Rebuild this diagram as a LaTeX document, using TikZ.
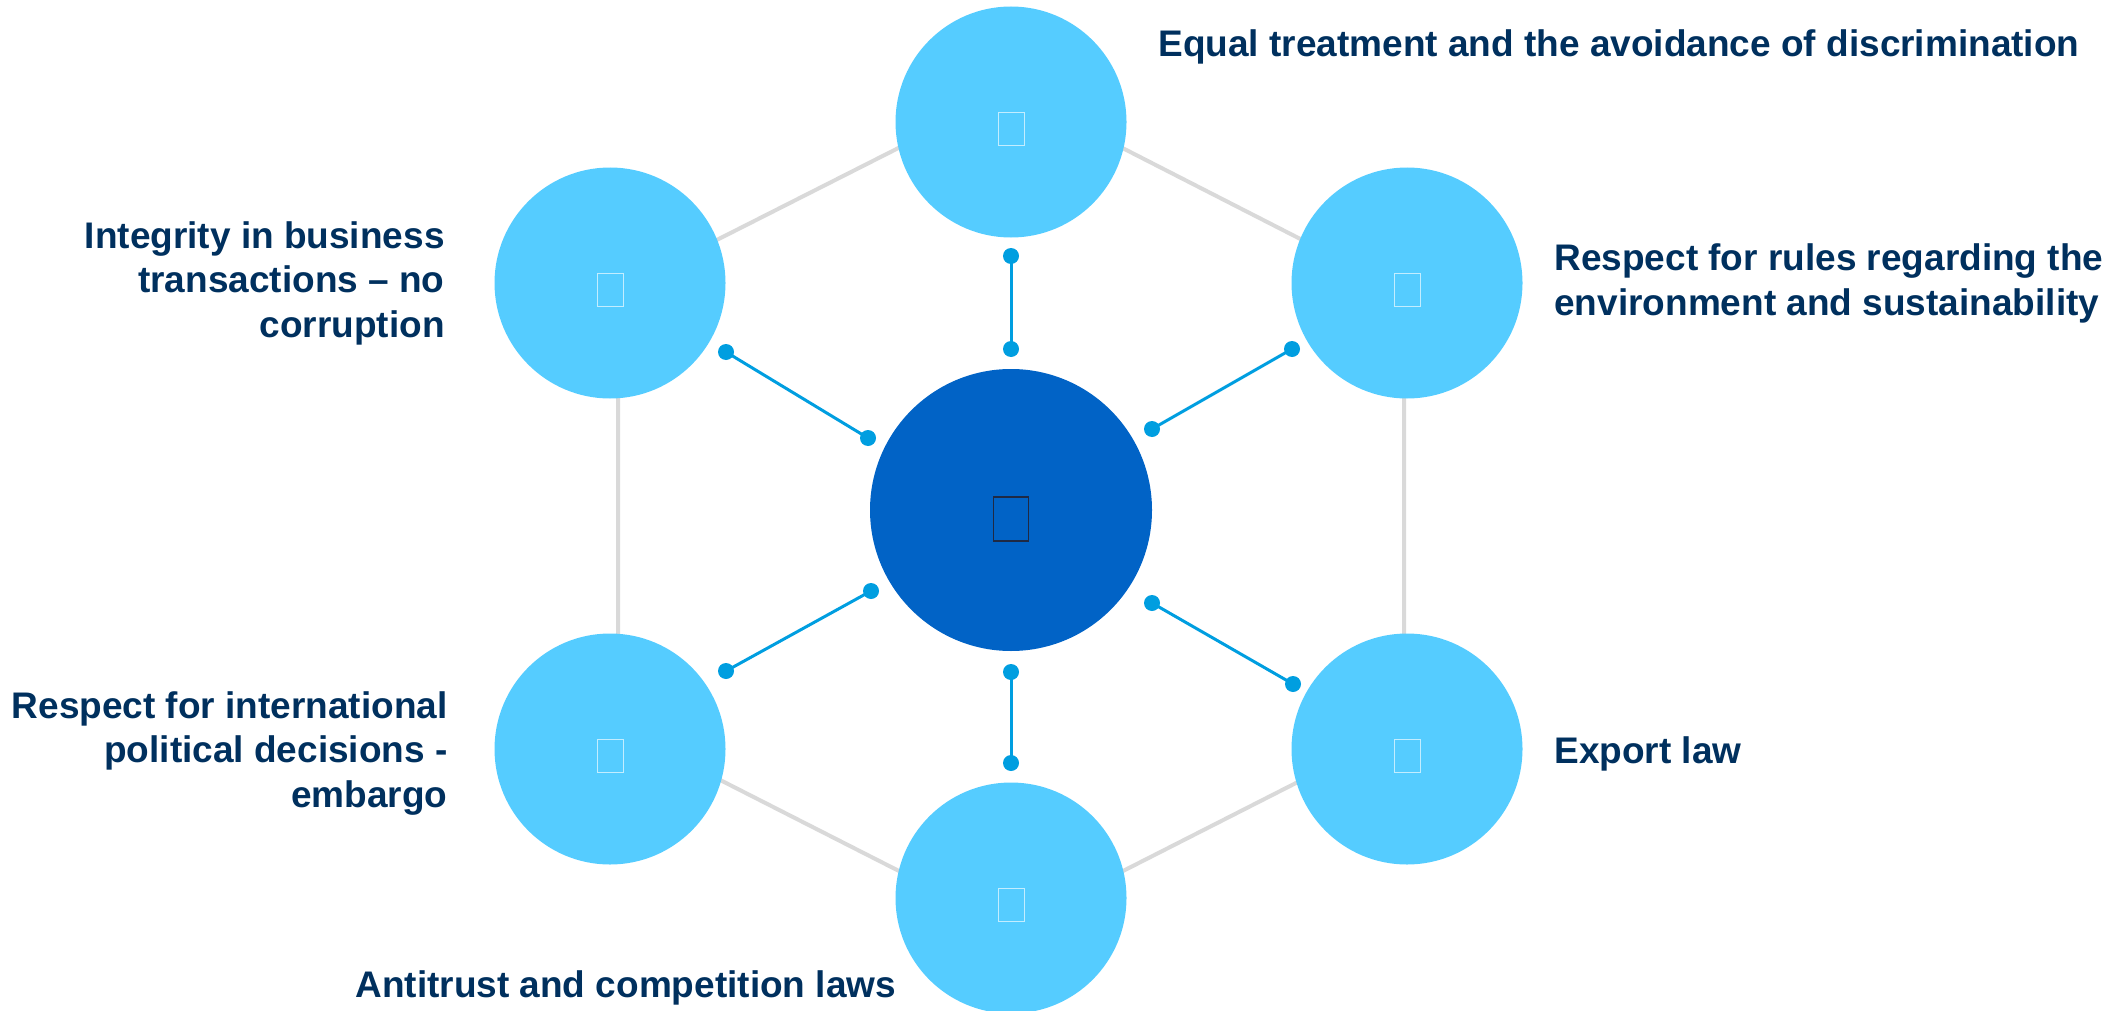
\documentclass[tikz,border=0pt]{standalone}
\usepackage{fontspec}
\setmainfont{Liberation Sans}
\definecolor{lightc}{HTML}{55CCFF}
\definecolor{hubc}{HTML}{0163C6}
\definecolor{connc}{HTML}{009EE0}
\definecolor{grayc}{HTML}{D9D9D9}
\definecolor{txtc}{HTML}{00305E}
\definecolor{iconk}{HTML}{1F2A44}
\begin{document}
\begin{tikzpicture}[x=0.5pt,y=-0.5pt,
  outer/.style={circle, fill=lightc, minimum size=115.5pt, inner sep=0pt},
  hub/.style={circle, fill=hubc, minimum size=141pt, inner sep=0pt},
  dotn/.style={circle, fill=connc, minimum size=8pt, inner sep=0pt},
  conn/.style={draw=connc, line width=1.5pt},
  hexline/.style={draw=grayc, line width=2pt},
  lbl/.style={font=\bfseries\fontsize{18.5pt}{22.25pt}\selectfont, text=txtc, inner sep=0pt},
  iconw/.style={rectangle, draw=white, draw opacity=0.65, line width=0.5pt, minimum width=13pt, minimum height=16.5pt, inner sep=0pt},
  iconh/.style={rectangle, draw=iconk, line width=0.7pt, minimum width=17.5pt, minimum height=22pt, inner sep=0pt}
]
\useasboundingbox (0,0) rectangle (2126,1011);
\clip (0,0) rectangle (2126,1011);
% hexagon frame
\coordinate (h1) at (1011,91);
\coordinate (h2) at (1404,292);
\coordinate (h3) at (1404,728);
\coordinate (h4) at (1011,928);
\coordinate (h5) at (618,728);
\coordinate (h6) at (618,290);
\draw[hexline] (h1) -- (h2) -- (h3) -- (h4) -- (h5) -- (h6) -- cycle;
% circles
\node[outer] (ctop) at (1011,122) {};
\node[outer] (cur)  at (1407,283) {};
\node[outer] (clr)  at (1407,749) {};
\node[outer] (cbot) at (1011,898) {};
\node[outer] (cll)  at (610,749) {};
\node[outer] (cul)  at (610,283) {};
\node[hub]   (chub) at (1011,510) {};
% icons
\node[iconw] (itop) at (1011,129) {};
\node[iconw] (iur)  at (1407,290) {};
\node[iconw] (ilr)  at (1407,756) {};
\node[iconw] (ibot) at (1011,905) {};
\node[iconw] (ill)  at (610,756) {};
\node[iconw] (iul)  at (610,290) {};
\node[iconh] (ihub) at (1011,519) {};
% connector dots
\node[dotn] (dtopo) at (1011,256) {};
\node[dotn] (dtopi) at (1011,349) {};
\node[dotn] (duro)  at (1292,349) {};
\node[dotn] (duri)  at (1152,429) {};
\node[dotn] (dlri)  at (1152,603) {};
\node[dotn] (dlro)  at (1293,684) {};
\node[dotn] (dboti) at (1011,672) {};
\node[dotn] (dboto) at (1011,763) {};
\node[dotn] (dlli)  at (871,591) {};
\node[dotn] (dllo)  at (726,671) {};
\node[dotn] (duli)  at (868,438) {};
\node[dotn] (dulo)  at (726,352) {};
\draw[conn] (dtopo.center) -- (dtopi.center);
\draw[conn] (duro.center) -- (duri.center);
\draw[conn] (dlri.center) -- (dlro.center);
\draw[conn] (dboti.center) -- (dboto.center);
\draw[conn] (dlli.center) -- (dllo.center);
\draw[conn] (duli.center) -- (dulo.center);
% labels (base anchor of a multi-line node = baseline of its last line)
\node[lbl, anchor=base west] (ttop) at (1158,57) {Equal treatment and the avoidance of discrimination};
\node[lbl, anchor=base west, align=left] (tur) at (1554,315) {Respect for rules regarding the\\environment and sustainability};
\node[lbl, anchor=base west] (tlr) at (1554,763) {Export law};
\node[lbl, anchor=base west] (tbot) at (355,997) {Antitrust and competition laws};
\node[lbl, anchor=base east, align=right] (tll) at (448,807) {Respect for international\\political decisions -\\embargo};
\node[lbl, anchor=base east, align=right] (tul) at (445,337) {Integrity in business\\transactions – no\\corruption};
\end{tikzpicture}
\end{document}
